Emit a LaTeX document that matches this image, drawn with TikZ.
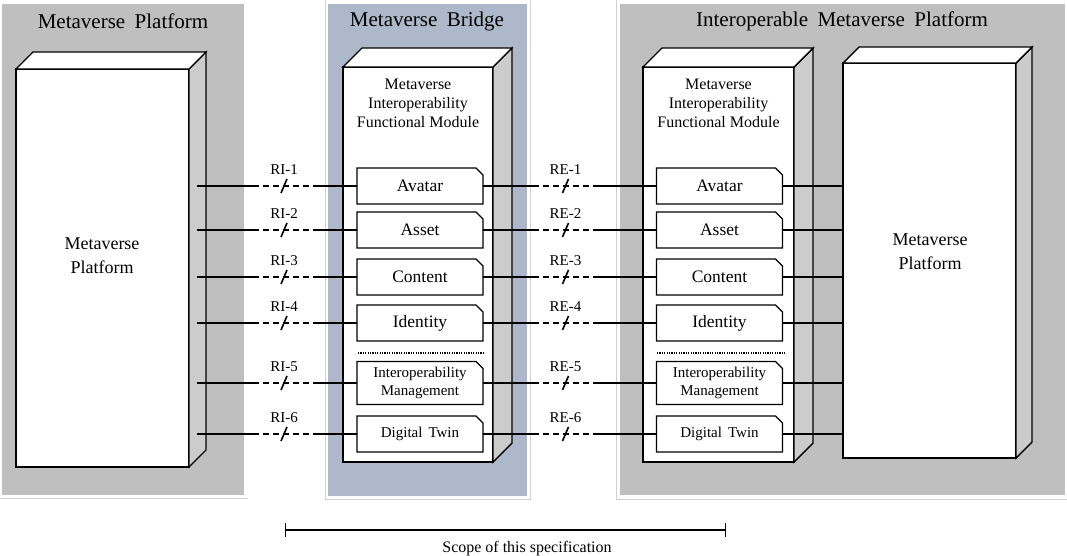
\documentclass[tikz,border=0pt]{standalone}
\usepackage{fontspec}
\setmainfont{Liberation Serif}
\usetikzlibrary{calc,arrows.meta}
\definecolor{panelgray}{HTML}{BFBFBF}
\definecolor{sidegray}{HTML}{CCCCCC}
\definecolor{bridgeblue}{HTML}{ADB9CA}
\definecolor{framegray}{HTML}{D0D0D0}
\newcommand\cubesides[2]{%
 \filldraw[boxline, fill=sidegray] (#1.north east) -- ++(#2,-#2) -- ($(#1.south east)+(#2,-#2)$) -- (#1.south east) -- cycle;
 \filldraw[boxline, fill=white] (#1.north west) -- ++(#2,-#2) -- ($(#1.north east)+(#2,-#2)$) -- (#1.north east) -- cycle;
}
\newcommand\chamf[1]{\draw[boxline, line width=1.2pt] (#1.south west) -- (#1.north west) -- ([xshift=-7pt]#1.north east) -- ([yshift=-7pt]#1.north east) -- (#1.south east) -- cycle;}
\newcommand\iface[6]{%
  \coordinate (da) at (#4,#3);
  \coordinate (db) at (#5,#3);
  \coordinate (mid) at ({(#4+#5)/2},#3);
  \draw[conn] (#1) -- (da);
  \draw[dsh] (da) -- (db);
  \draw[conn] (db) -- (#2);
  \draw[slash] ([shift={(-3,7)}]mid) -- ([shift={(3,-7)}]mid);
  \node[lbl] at ([yshift=16pt]mid) {#6};
}
\begin{document}
\begin{tikzpicture}[x=1pt,y=-1pt,
  boxline/.style={draw=black, line width=1.4pt, line join=miter},
  front/.style={boxline, fill=white, inner sep=0pt, outer sep=0pt, anchor=north west},
  conn/.style={line width=1.2pt},
  dsh/.style={conn, dash pattern=on 6pt off 4pt},
  slash/.style={line width=1.6pt},
  lbl/.style={font=\fontsize{15}{15}\selectfont, inner sep=0pt},
  title/.style={font=\fontsize{21}{23}\selectfont, inner sep=0pt},
  mod/.style={inner sep=0pt, outer sep=0pt, minimum width=126pt, align=center},
  modbig/.style={mod, minimum height=36pt, font=\fontsize{17.5}{19}\selectfont},
  modsmall/.style={mod, font=\fontsize{15}{18}\selectfont},
  sep/.style={line width=1.3pt, dash pattern=on 1.2pt off 1.2pt},
]
\useasboundingbox (0,0) rectangle (1067,556);
\fill[white] (0,0) rectangle (1067,556);
% panels
\fill[panelgray] (2,4) rectangle (244,495);
\draw[framegray, line width=1pt] (0,498) -- (248,498);
\draw[framegray, line width=1pt] (325,0) -- (325,499) -- (530,499) -- (530,0);
\fill[bridgeblue] (328,4) rectangle (527,496);
\draw[framegray, line width=1pt] (616,0) -- (616,499) -- (1067,499);
\fill[panelgray] (620,4) rectangle (1065,495);
\node[title] (t1) at (123,21) {Metaverse\hspace{0.45em}Platform};
\node[title] (t2) at (427,21) {Metaverse\hspace{0.45em}Bridge};
\node[title] (t3) at (842,21) {Interoperable\hspace{0.45em}Metaverse\hspace{0.45em}Platform};
% cubes
\node[front, minimum width=173pt, minimum height=398pt] (lp) at (16,69) {};
\cubesides{lp}{17}
\node[front, minimum width=150pt, minimum height=395pt] (bm) at (343,67) {};
\cubesides{bm}{19}
\node[front, minimum width=151pt, minimum height=395pt] (rm) at (643,67) {};
\cubesides{rm}{19}
\node[front, minimum width=173pt, minimum height=395pt] (rp) at (843,63) {};
\cubesides{rp}{16}
\node[font=\fontsize{18}{24}\selectfont, align=center] (lpt) at (102,256) {Metaverse\\Platform};
\node[font=\fontsize{18}{24}\selectfont, align=center] (rpt) at (930,252) {Metaverse\\Platform};
\node[font=\fontsize{16}{19}\selectfont, align=center] (bmt) at (418,103) {Metaverse\\Interoperability\\Functional Module};
\node[font=\fontsize{16}{19}\selectfont, align=center] (rmt) at (718.5,103) {Metaverse\\Interoperability\\Functional Module};
% bridge modules
\node[modbig] (bav) at (420,186) {Avatar};
\node[modbig] (bas) at (420,230) {Asset};
\node[modbig] (bco) at (420,277) {Content};
\node[modbig] (bid) at (420,323) {Identity};
\node[modsmall, minimum height=43pt] (bim) at (420,383) {Interoperability\\Management};
\node[modsmall, minimum height=36pt] (bdt) at (420,434) {Digital\hspace{0.4em}Twin};
\foreach \n in {bav,bas,bco,bid,bim,bdt} {\chamf{\n}}
\draw[sep] (358,353) -- (485,353);
% right modules
\node[modbig] (rav) at (719.5,186) {Avatar};
\node[modbig] (ras) at (719.5,230) {Asset};
\node[modbig] (rco) at (719.5,277) {Content};
\node[modbig] (rid) at (719.5,323) {Identity};
\node[modsmall, minimum height=43pt] (rim) at (719.5,383) {Interoperability\\Management};
\node[modsmall, minimum height=36pt] (rdt) at (719.5,434) {Digital\hspace{0.4em}Twin};
\foreach \n in {rav,ras,rco,rid,rim,rdt} {\chamf{\n}}
\draw[sep] (657,353) -- (785,353);
% left start points
\coordinate (l1) at (197,186);
\coordinate (l2) at (197,230);
\coordinate (l3) at (197,277);
\coordinate (l4) at (197,323);
\coordinate (l5) at (197,383);
\coordinate (l6) at (197,434);
\iface{l1}{bav.west}{186}{253}{315}{RI-1}
\iface{l2}{bas.west}{230}{253}{315}{RI-2}
\iface{l3}{bco.west}{277}{253}{315}{RI-3}
\iface{l4}{bid.west}{323}{253}{315}{RI-4}
\iface{l5}{bim.west}{383}{253}{315}{RI-5}
\iface{l6}{bdt.west}{434}{253}{315}{RI-6}
\iface{bav.east}{rav.west}{186}{533}{598}{RE-1}
\iface{bas.east}{ras.west}{230}{533}{598}{RE-2}
\iface{bco.east}{rco.west}{277}{533}{598}{RE-3}
\iface{bid.east}{rid.west}{323}{533}{598}{RE-4}
\iface{bim.east}{rim.west}{383}{533}{598}{RE-5}
\iface{bdt.east}{rdt.west}{434}{533}{598}{RE-6}
\foreach \n in {rav,ras,rco,rid,rim,rdt} {\draw[conn] (\n.east) -- (rp.west |- \n.east);}
% scope
\coordinate (sa) at (285,530);
\coordinate (sb) at (726,530);
\draw[line width=1.2pt, {Bar[width=14pt]}-{Bar[width=14pt]}] (sa) -- (sb);
\node[font=\fontsize{16}{16}\selectfont, inner sep=0pt] (scope) at (527,549) {Scope of this specification};
\end{tikzpicture}
\end{document}
